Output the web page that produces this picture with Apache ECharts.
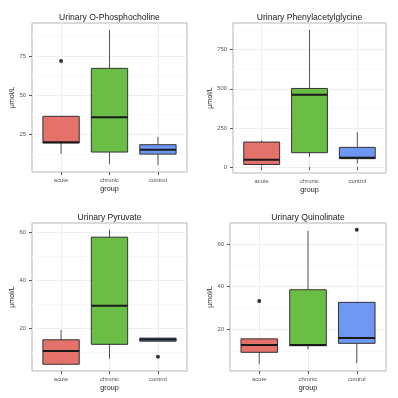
<!DOCTYPE html>
<html><head><meta charset="utf-8">
<script src="https://cdn.jsdelivr.net/npm/echarts@6/dist/echarts.min.js"></script>
<style>html,body{margin:0;padding:0;background:#fff}#c{width:398px;height:398px}</style>
</head><body><div id="c"></div>
<script>
const groups = ['acute', 'chronic', 'control'];
const fills = ['#E4716A', '#6ABD45', '#6E97F3'];
const titles = ['Urinary O-Phosphocholine', 'Urinary Phenylacetylglycine', 'Urinary Pyruvate', 'Urinary Quinolinate'];
const yName = 'μmol/L';
const xName = 'group';
// per group: [min, Q1, median, Q3, max]
const phosphocholine = [[12.6, 19.5, 20.0, 36.5, 36.5], [6.2, 13.7, 35.9, 67.1, 91.7], [5.3, 12.4, 15.2, 18.4, 23.3]];
const phosphocholineOut = [['acute', 71.8]];
const phenylacetylglycine = [[6, 17, 47, 160, 171], [64, 92, 462, 502, 876], [22, 54, 60, 126, 222]];
const phenylacetylglycineOut = [];
const pyruvate = [[5.1, 5.1, 10.6, 15.3, 19.4], [7.4, 13.4, 29.5, 58.0, 61.1], [14.7, 14.7, 15.4, 16.0, 16.0]];
const pyruvateOut = [['control', 8.2]];
const quinolinate = [[3.7, 9.3, 12.7, 15.6, 15.6], [10.7, 12.4, 12.7, 38.6, 66.2], [4.2, 13.5, 16.0, 32.7, 32.7]];
const quinolinateOut = [['acute', 33.3], ['control', 66.7]];
const majorTicks = [[25, 50, 75], [0, 250, 500, 750], [20, 40, 60], [20, 40, 60]];
const minorTicks = [[12.5, 37.5, 62.5, 87.5], [125, 375, 625, 875], [10, 30, 50], [10, 30, 50]];

const panels = [
  {box: phosphocholine, out: phosphocholineOut},
  {box: phenylacetylglycine, out: phenylacetylglycineOut},
  {box: pyruvate, out: pyruvateOut},
  {box: quinolinate, out: quinolinateOut}
];
const gridPos = [
  {left: 32, top: 23, width: 155, height: 149},
  {left: 233, top: 23, width: 153, height: 150},
  {left: 32, top: 223, width: 155, height: 148},
  {left: 230, top: 223, width: 156, height: 148}
];
const yNameGap = [15.5, 18.5, 15.5, 15.5];
const FONT = "'Liberation Sans', Arial, sans-serif";

function renderBox(params, api) {
  const x = api.value(0);
  const pMin = api.coord([x, api.value(1)]);
  const pQ1 = api.coord([x, api.value(2)]);
  const pMed = api.coord([x, api.value(3)]);
  const pQ3 = api.coord([x, api.value(4)]);
  const pMax = api.coord([x, api.value(5)]);
  const w = api.size([0.75, 0])[0];
  const cx = pMed[0];
  return {
    type: 'group',
    children: [
      {type: 'line', shape: {x1: cx, y1: pMin[1], x2: cx, y2: pMax[1]}, style: {stroke: '#555', lineWidth: 1}},
      {type: 'rect', shape: {x: cx - w / 2, y: pQ3[1], width: w, height: pQ1[1] - pQ3[1]},
        style: {fill: fills[params.dataIndex], stroke: '#333', lineWidth: 1}},
      {type: 'line', shape: {x1: cx - w / 2, y1: pMed[1], x2: cx + w / 2, y2: pMed[1]}, style: {stroke: '#1a1a1a', lineWidth: 2}}
    ]
  };
}

const option = {
  animation: false,
  backgroundColor: '#fff',
  title: [], grid: [], xAxis: [], yAxis: [], series: []
};

panels.forEach((p, i) => {
  const vals = [];
  p.box.forEach(b => vals.push(...b));
  p.out.forEach(o => vals.push(o[1]));
  const lo = Math.min(...vals), hi = Math.max(...vals);
  const pad = (hi - lo) * 0.05;
  const g = gridPos[i];
  option.title.push({
    text: titles[i], left: g.left + g.width / 2, top: g.top - 9.5, textAlign: 'center', padding: 0,
    textStyle: {fontFamily: FONT, fontSize: 8.6, fontWeight: 'normal', color: '#1a1a1a'}
  });
  option.grid.push(Object.assign({show: true, borderColor: '#b5b5b5', borderWidth: 1, backgroundColor: '#fff'}, g));
  option.xAxis.push({
    type: 'value', gridIndex: i, min: 0.4, max: 3.6,
    name: xName, nameLocation: 'middle', nameGap: 13.5,
    nameTextStyle: {fontFamily: FONT, fontSize: 7.2, color: '#1a1a1a'},
    axisLine: {show: false},
    axisTick: {show: true, length: 3, customValues: [1, 2, 3], lineStyle: {color: '#555'}},
    axisLabel: {customValues: [1, 2, 3], formatter: v => groups[Math.round(v) - 1], margin: 5.5,
      fontFamily: FONT, fontSize: 5.9, color: '#555'},
    splitLine: {show: true, lineStyle: {color: '#eeeeee', width: 1}}
  });
  option.yAxis.push({
    type: 'value', gridIndex: i, min: lo - pad, max: hi + pad,
    name: yName, nameLocation: 'middle', nameGap: yNameGap[i], nameRotate: 90,
    nameTextStyle: {fontFamily: FONT, fontSize: 7.2, color: '#1a1a1a'},
    axisLine: {show: false},
    axisTick: {show: true, length: 3, customValues: majorTicks[i], lineStyle: {color: '#555'}},
    axisLabel: {customValues: majorTicks[i], margin: 6, fontFamily: FONT, fontSize: 5.9, color: '#555'},
    splitLine: {show: true, lineStyle: {color: '#eeeeee', width: 1}}
  });
  option.yAxis.push({
    type: 'value', gridIndex: i, min: lo - pad, max: hi + pad,
    axisLine: {show: false}, axisLabel: {show: false},
    axisTick: {show: false, customValues: minorTicks[i]},
    splitLine: {show: true, lineStyle: {color: '#f8f8f8', width: 1}}
  });
  option.series.push({
    type: 'custom', xAxisIndex: i, yAxisIndex: i * 2, z: 3,
    renderItem: renderBox,
    encode: {x: 0, y: [1, 2, 3, 4, 5]},
    data: p.box.map((b, k) => [k + 1, ...b])
  });
  option.series.push({
    type: 'scatter', xAxisIndex: i, yAxisIndex: i * 2, z: 4,
    symbolSize: 4, itemStyle: {color: '#000'},
    data: p.out.map(o => [groups.indexOf(o[0]) + 1, o[1]])
  });
});

const chart = echarts.init(document.getElementById('c'));
chart.setOption(option);
</script></body></html>
